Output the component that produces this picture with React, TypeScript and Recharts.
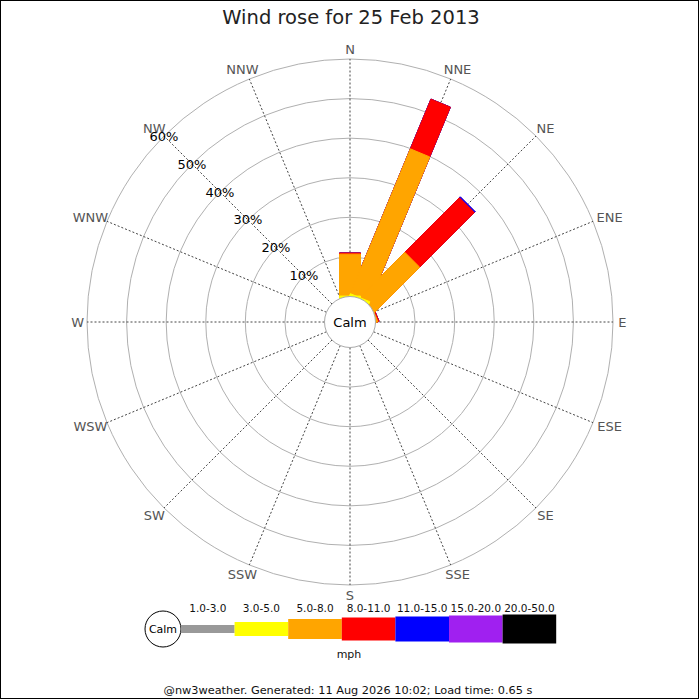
import React from "react";
import {
  RadarChart,
  Radar,
  PolarGrid,
  PolarAngleAxis,
  PolarRadiusAxis,
} from "recharts";

const directions = ["N", "NNE", "NE", "ENE", "E", "ESE", "SE", "SSE", "S", "SSW", "SW", "WSW", "W", "WNW", "NW", "NNW"];
const binLabels = ["1.0-3.0", "3.0-5.0", "5.0-8.0", "8.0-11.0", "11.0-15.0", "15.0-20.0", "20.0-50.0"];
const binColors = ["#999999", "#ffff00", "#ffa500", "#ff0000", "#0000ff", "#a020f0", "#000000"];

// % of time from each direction, one list per speed bin (mph)
const speed1to3 = [0, 0, 0, 0, 0, 0, 0, 0, 0, 0, 0, 0, 0, 0, 0, 0];
const speed3to5 = [0.1, 0.2, 0, 0, 0, 0, 0, 0, 0, 0, 0, 0, 0, 0, 0, 0];
const speed5to8 = [10.6, 39.6, 15.8, 0.1, 0, 0, 0, 0, 0, 0, 0, 0, 0, 0, 0, 0];
const speed8to11 = [0.3, 13.6, 19.5, 0.3, 0, 0, 0, 0, 0, 0, 0, 0, 0, 0, 0, 0];
const speed11to15 = [0, 0, 0.3, 0, 0, 0, 0, 0, 0, 0, 0, 0, 0, 0, 0, 0];
const speed15to20 = [0, 0, 0, 0, 0, 0, 0, 0, 0, 0, 0, 0, 0, 0, 0, 0];
const speed20to50 = [0, 0, 0, 0, 0, 0, 0, 0, 0, 0, 0, 0, 0, 0, 0, 0];
const percentTicks = [10, 20, 30, 40, 50, 60];

const bins = [speed1to3, speed3to5, speed5to8, speed8to11, speed11to15, speed15to20, speed20to50];
const legendHeights = [8, 14, 20, 23, 25, 27, 29];

// stacked totals per direction: s0 = first bin, s1 = first two, ...
const data = directions.map((dir, i) => {
  const row: any = { dir, calm: 0 };
  let sum = 0;
  bins.forEach((b, k) => {
    sum += b[i];
    row["s" + k] = sum;
  });
  return row;
});

const FONT = "'DejaVu Sans', Verdana, sans-serif";
const HALF = 10.5;

const barShape = (color: string) => (props: any) => {
  const pts = props.points || [];
  return (
    <g>
      {pts.map((p: any, i: number) => {
        if (!(p.value > 0)) return null;
        const a = (-p.angle * Math.PI) / 180;
        const ux = Math.cos(a);
        const uy = Math.sin(a);
        const nx = -uy * HALF;
        const ny = ux * HALF;
        const d = `M${p.cx + nx},${p.cy + ny}L${p.x + nx},${p.y + ny}L${p.x - nx},${p.y - ny}L${p.cx - nx},${p.cy - ny}Z`;
        return <path key={i} d={d} fill={color} stroke={color} strokeWidth={1} />;
      })}
    </g>
  );
};

const calmShape = (props: any) => {
  const p = props.points && props.points[0];
  if (!p) return <g />;
  return (
    <g>
      <circle cx={p.cx} cy={p.cy} r={p.radius} fill="#fff" stroke="#aaa" strokeWidth={1} />
      <text x={p.cx} y={p.cy} textAnchor="middle" dominantBaseline="central" fontSize={13} fill="#000" fontFamily={FONT}>
        Calm
      </text>
    </g>
  );
};

// labels sit just outside the ring, pushed sideways like a start/end anchor
const AngleTick = (props: any) => {
  const label = String(props.payload.value);
  const c = Math.cos((props.payload.coordinate * Math.PI) / 180);
  const w = label.length * 8.6;
  const dx = c * (w / 2 - 5);
  return (
    <text x={props.x + dx} y={props.y} textAnchor="middle" dominantBaseline="central" fontSize={13} fill="#555" fontFamily={FONT}>
      {label}
    </text>
  );
};

const RadiusTick = (props: any) => (
  <text x={props.x} y={props.y} textAnchor="middle" dominantBaseline="central" fontSize={13} fill="#000" fontFamily={FONT}>
    {props.payload.value}%
  </text>
);

const Legend = () => {
  const x0 = 181;
  const w = 53.6;
  const cy = 629;
  return (
    <g fontFamily={FONT}>
      <circle cx={163} cy={cy} r={18} fill="#fff" stroke="#000" />
      <text x={163} y={cy} textAnchor="middle" dominantBaseline="central" fontSize={11}>Calm</text>
      {binLabels.map((lab, k) => (
        <g key={lab}>
          <rect x={x0 + k * w} y={cy - legendHeights[k] / 2} width={w} height={legendHeights[k]} fill={binColors[k]} />
          <text x={x0 + k * w + w / 2} y={608} textAnchor="middle" dominantBaseline="central" fontSize={10.5} fill="#111">
            {lab}
          </text>
        </g>
      ))}
      <text x={349} y={654} textAnchor="middle" dominantBaseline="central" fontSize={11} fill="#111">mph</text>
    </g>
  );
};

export default function App() {
  const layers = bins.map((_, k) => k).reverse();
  return (
    <div style={{ position: "absolute", left: 0, top: 0, width: 700, height: 700, background: "#fff", fontFamily: FONT }}>
      <div style={{ position: "absolute", left: 0, top: 0 }}>
        <RadarChart
          width={700}
          height={700}
          data={data}
          cx={350}
          cy={322}
          innerRadius={25.5}
          outerRadius={263}
          margin={{ top: 0, right: 0, bottom: 0, left: 0 }}
        >
          <PolarGrid gridType="circle" radialLines={false} stroke="#b0b0b0" />
          <PolarGrid gridType="circle" polarRadius={[]} stroke="#444" strokeDasharray="2 2" />
          <PolarAngleAxis dataKey="dir" tickSize={10} tickLine={false} axisLine={false} tick={<AngleTick />} />
          <PolarRadiusAxis
            angle={135}
            domain={[0, 60]}
            ticks={percentTicks}
            axisLine={false}
            tickLine={false}
            tick={<RadiusTick />}
          />
          {layers.map((k) => (
            <Radar
              key={k}
              dataKey={"s" + k}
              fill={binColors[k]}
              stroke="none"
              isAnimationActive={false}
              shape={barShape(binColors[k])}
            />
          ))}
          <Radar dataKey="calm" isAnimationActive={false} shape={calmShape} />
        </RadarChart>
      </div>
      <svg width={700} height={700} style={{ position: "absolute", left: 0, top: 0, pointerEvents: "none" }}>
        <rect x={0.5} y={0.5} width={698} height={698} fill="none" stroke="#000" />
        <text x={351} y={17} textAnchor="middle" dominantBaseline="central" fontSize={19.5} fill="#222" fontFamily={FONT}>
          Wind rose for 25 Feb 2013
        </text>
        <Legend />
        <text x={348} y={690} textAnchor="middle" dominantBaseline="central" fontSize={11.3} fill="#111" fontFamily={FONT}>
          @nw3weather. Generated: 11 Aug 2026 10:02; Load time: 0.65 s
        </text>
      </svg>
    </div>
  );
}
